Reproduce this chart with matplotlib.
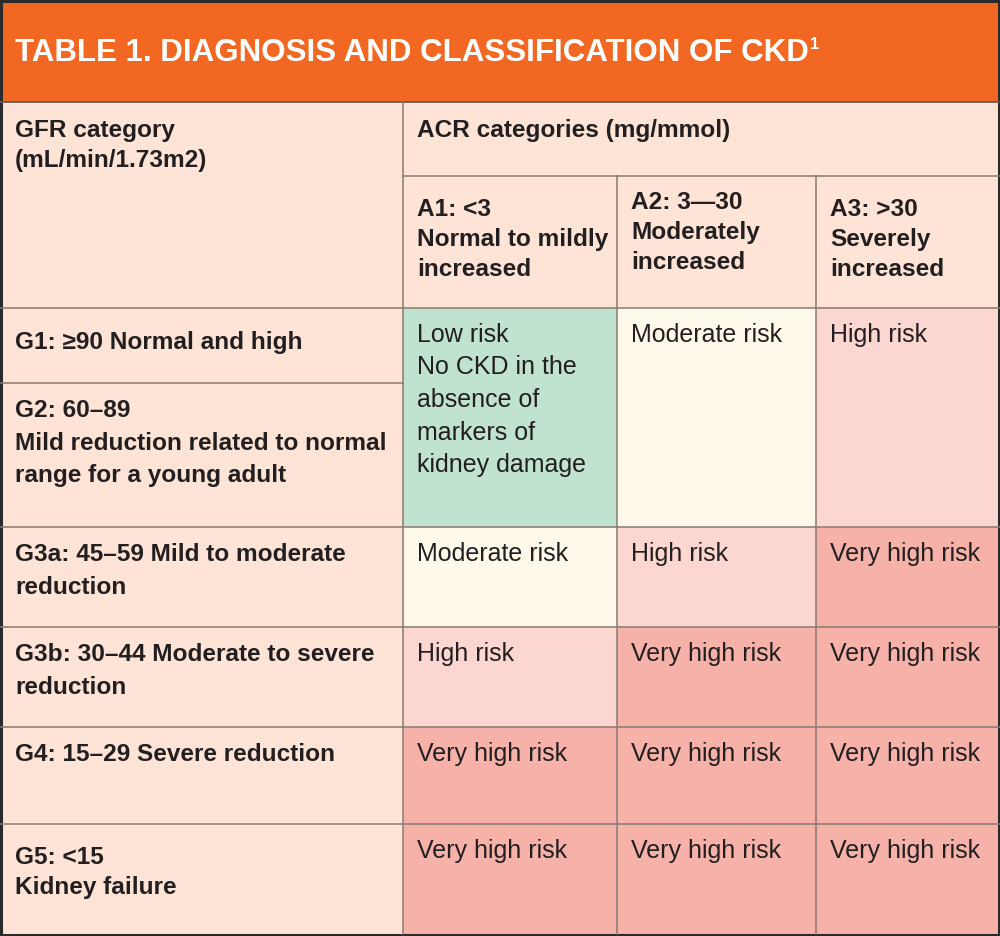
import matplotlib
matplotlib.use("Agg")
import matplotlib.pyplot as plt
from matplotlib.patches import Rectangle

# table content
title = "TABLE 1. DIAGNOSIS AND CLASSIFICATION OF CKD"
title_note = "1"
gfr_header = "GFR category\n(mL/min/1.73m2)"
acr_header = "ACR categories (mg/mmol)"
acr_labels = ["A1: <3\nNormal to mildly\nincreased",
              "A2: 3\u201430\nModerately\nincreased",
              "A3: >30\nSeverely\nincreased"]
gfr_labels = ["G1: \u226590 Normal and high",
              "G2: 60\u201389\nMild reduction related to normal\nrange for a young adult",
              "G3a: 45\u201359 Mild to moderate\nreduction",
              "G3b: 30\u201344 Moderate to severe\nreduction",
              "G4: 15\u201329 Severe reduction",
              "G5: <15\nKidney failure"]
risk_names = ["Low risk", "Moderate risk", "High risk", "Very high risk"]
low_risk_note = "No CKD in the\nabsence of\nmarkers of\nkidney damage"
# risk level per GFR row (G1&G2 merged) and ACR column
risk_grid = [[0, 1, 2],
             [1, 2, 3],
             [2, 3, 3],
             [3, 3, 3],
             [3, 3, 3]]
risk_colors = ["#c0e3cf", "#fff9eb", "#fcd6d0", "#f6b2a9"]

# layout in pixels
W, H = 1000, 936
col_x = [0, 403, 617, 816, 998]
row_y = [308, 527, 627, 727, 824, 934]   # risk rows (G1+G2 merged)
g_split = 383
title_bottom = 102
acr_split = 176
header_col = "#fde4d6"
orange = "#f26722"
ink = "#231f20"
grid_col = "#8a7a70"
body_pt = 18
bold_pt = 17.6
pitch = 32.5

fig = plt.figure(figsize=(W / 100, H / 100), dpi=100)
ax = fig.add_axes([0, 0, 1, 1])
ax.set_xlim(0, W)
ax.set_ylim(H, 0)
ax.axis("off")

# backgrounds
ax.add_patch(Rectangle((0, 0), W, title_bottom, color=orange, lw=0))
ax.add_patch(Rectangle((0, title_bottom), W, row_y[-1] - title_bottom, color=header_col, lw=0))
for r, row in enumerate(risk_grid):
    for c, lvl in enumerate(row):
        ax.add_patch(Rectangle((col_x[c + 1], row_y[r]), col_x[c + 2] - col_x[c + 1],
                               row_y[r + 1] - row_y[r], color=risk_colors[lvl], lw=0))

# grid lines
lw = 1.1
ax.plot([0, W], [title_bottom, title_bottom], color="#6a5a50", lw=1.3)
for y in row_y[:-1]:
    ax.plot([0, W], [y, y], color=grid_col, lw=lw)
ax.plot([0, col_x[1]], [g_split, g_split], color=grid_col, lw=lw)
ax.plot([col_x[1], W], [acr_split, acr_split], color=grid_col, lw=lw)
ax.plot([col_x[1], col_x[1]], [title_bottom, row_y[-1]], color=grid_col, lw=lw)
for x in col_x[2:4]:
    ax.plot([x, x], [acr_split, row_y[-1]], color=grid_col, lw=lw)
# outer frame
ax.add_patch(Rectangle((1, 1), W - 2, row_y[-1], fill=False, ec="#2a2a2a", lw=2.2))


def lines(text, x, y0, bold=False, step=pitch):
    # y0 is the vertical centre of the first line
    for i, s in enumerate(text.split("\n")):
        ax.text(x, y0 + i * step + 9, s, fontsize=bold_pt if bold else body_pt, color=ink,
                family="Liberation Sans", weight="bold" if bold else "normal",
                ha="left", va="baseline")


# title
t = ax.text(15, 61, title, fontsize=22.5, color="white", weight="bold",
            family="Liberation Sans", ha="left", va="baseline")
fig.canvas.draw()
bb = t.get_window_extent(fig.canvas.get_renderer())
ax.text(bb.x1 + 1, 37, title_note, fontsize=12, color="white", weight="bold",
        family="Liberation Sans", ha="left", va="top")

# headers
lines(gfr_header, 15, 128, bold=True, step=30)
lines(acr_header, col_x[1] + 14, 128, bold=True)
acr_y = [207, 200, 207]
for c, lab in enumerate(acr_labels):
    lines(lab, col_x[c + 1] + 14, acr_y[c], bold=True, step=30)

# GFR labels
gfr_y = [340, 408, 552, 652, 752, 855]
for lab, y in zip(gfr_labels, gfr_y):
    lines(lab, 15, y, bold=True, step=pitch if not lab.startswith("G5") else 30)

# risk cells
risk_y = [333, 552, 652, 752, 849]
for r, row in enumerate(risk_grid):
    for c, lvl in enumerate(row):
        txt = risk_names[lvl]
        if lvl == 0:
            txt = txt + "\n" + low_risk_note
        lines(txt, col_x[c + 1] + 14, risk_y[r])

fig.savefig("out.png", dpi=100)
